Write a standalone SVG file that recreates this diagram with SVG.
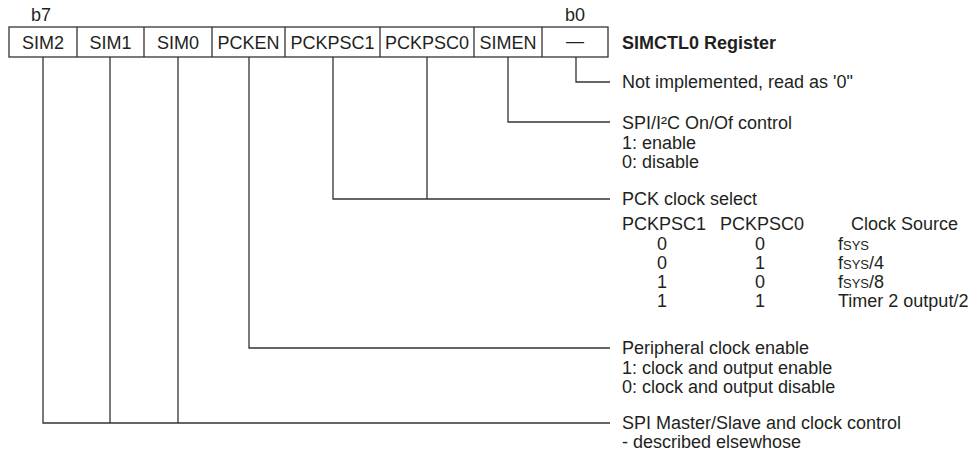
<svg xmlns="http://www.w3.org/2000/svg" width="976" height="454" viewBox="0 0 976 454">
<style>
text{font-family:"Liberation Sans",Arial,sans-serif;font-size:18px;fill:#231f20}
.c{text-anchor:middle}
.b{font-weight:bold}
.box{fill:#fff;stroke:#333;stroke-width:1.3}
.ln{fill:none;stroke:#333;stroke-width:1.3}
.sc{font-size:13px}
</style>
<rect width="976" height="454" fill="#fff"/>
<text x="41" y="21" class="c">b7</text>
<text x="575" y="21" class="c">b0</text>
<g id="register">
<rect class="box" x="9" y="27" width="599" height="30"/>
<path class="ln" d="M77 27V57M144 27V57M212 27V57M285 27V57M380 27V57M474 27V57M542 27V57"/>
</g>
<g id="SIM2"><text x="43" y="49" class="c">SIM2</text></g>
<g id="SIM1"><text x="110.5" y="49" class="c">SIM1</text></g>
<g id="SIM0"><text x="178" y="49" class="c">SIM0</text></g>
<g id="PCKEN"><text x="248.5" y="49" class="c">PCKEN</text></g>
<g id="PCKPSC1"><text x="332.5" y="49" class="c">PCKPSC1</text></g>
<g id="PCKPSC0"><text x="427" y="49" class="c">PCKPSC0</text></g>
<g id="SIMEN"><text x="508" y="49" class="c">SIMEN</text></g>
<g id="b0"><text x="575" y="47" class="c">—</text></g>
<g id="title"><text x="622" y="49" class="b">SIMCTL0 Register</text></g>
<g id="connectors">
<path class="ln" d="M576 57V82H610"/>
<path class="ln" d="M508 57V122H610"/>
<path class="ln" d="M333 57V199H610M427 57V199"/>
<path class="ln" d="M249 57V348H610"/>
<path class="ln" d="M43 57V423H610M110 57V423M178 57V423"/>
</g>
<g id="desc-b0"><text x="622" y="88">Not implemented, read as '0"</text></g>
<g id="desc-simen">
<text x="622" y="129">SPI/I²C On/Of control</text>
<text x="622" y="148.5">1: enable</text>
<text x="622" y="168">0: disable</text>
</g>
<g id="desc-pckpsc">
<text x="622" y="205">PCK clock select</text>
<text x="622" y="230">PCKPSC1</text>
<text x="720" y="230">PCKPSC0</text>
<text x="851" y="230">Clock Source</text>
<text x="662" y="250" class="c">0</text><text x="760" y="250" class="c">0</text><text x="838" y="250">f<tspan class="sc">SYS</tspan></text>
<text x="662" y="269" class="c">0</text><text x="760" y="269" class="c">1</text><text x="838" y="269">f<tspan class="sc">SYS</tspan>/4</text>
<text x="662" y="288" class="c">1</text><text x="760" y="288" class="c">0</text><text x="838" y="288">f<tspan class="sc">SYS</tspan>/8</text>
<text x="662" y="307" class="c">1</text><text x="760" y="307" class="c">1</text><text x="838" y="307">Timer 2 output/2</text>
</g>
<g id="desc-pcken">
<text x="622" y="354">Peripheral clock enable</text>
<text x="622" y="373.5">1: clock and output enable</text>
<text x="622" y="393">0: clock and output disable</text>
</g>
<g id="desc-sim">
<text x="622" y="429">SPI Master/Slave and clock control</text>
<text x="622" y="448">- described elsewhose</text>
</g>
</svg>
